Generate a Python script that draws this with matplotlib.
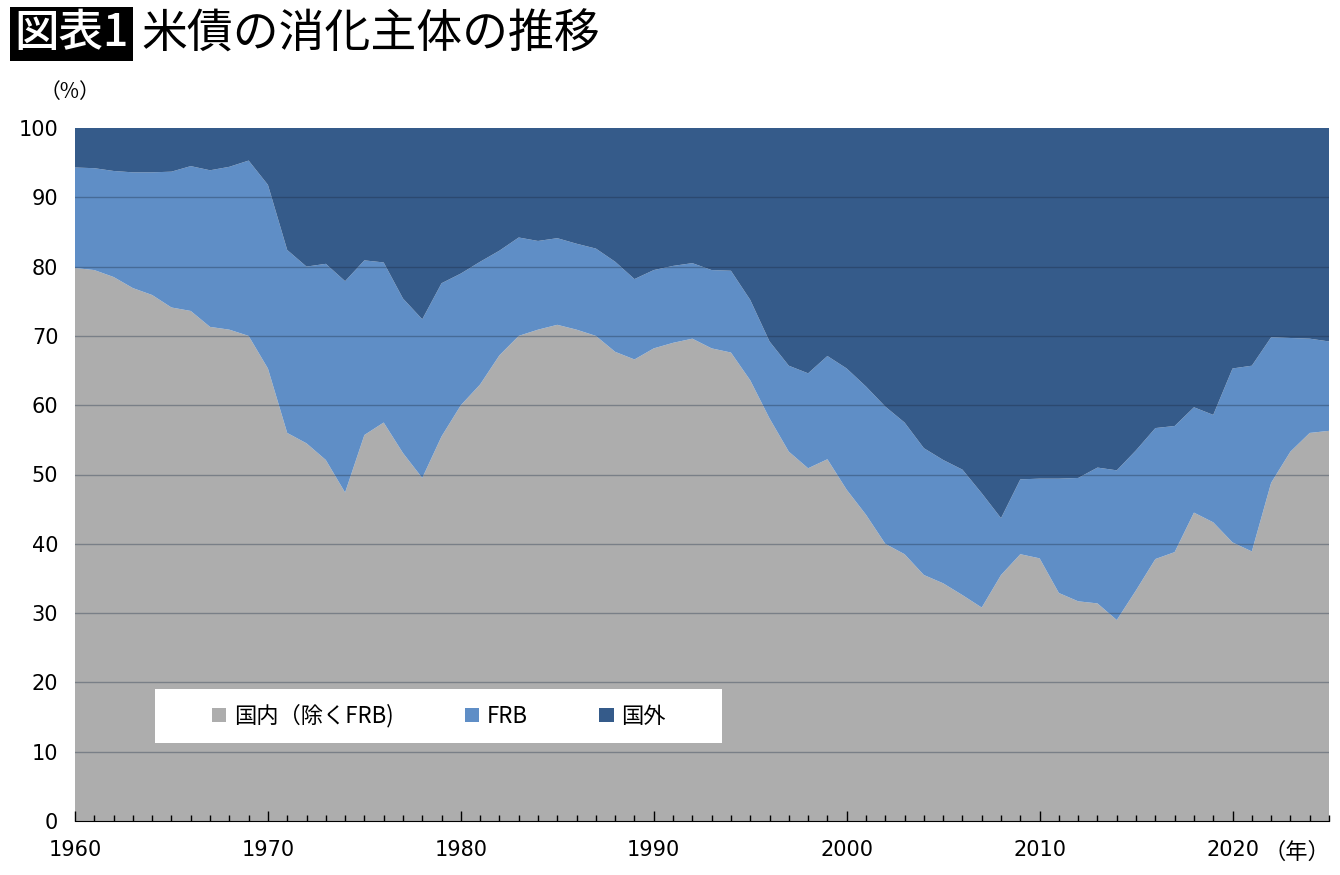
import numpy as np
import matplotlib
matplotlib.use("Agg")
from matplotlib import pyplot as plt
from matplotlib.patches import Rectangle, Patch

plt.rcParams['font.family'] = ['DejaVu Sans', 'Noto Sans CJK JP']
cjk = ['Noto Sans CJK JP', 'DejaVu Sans']

years = list(range(1960, 2026))

# 国内（除くFRB） share, %
domestic = [79.8, 79.5, 78.5, 76.9, 75.9, 74.1, 73.6, 71.3, 70.9, 70.0,
            65.3, 56.0, 54.5, 52.1, 47.4, 55.7, 57.5, 53.1, 49.5, 55.5,
            60.0, 63.0, 67.2, 70.0, 70.9, 71.6, 70.9, 70.0, 67.7, 66.6,
            68.2, 69.0, 69.6, 68.2, 67.6, 63.6, 58.1, 53.3, 50.9, 52.2,
            47.8, 44.2, 40.0, 38.5, 35.5, 34.3, 32.6, 30.8, 35.5, 38.5,
            37.9, 32.9, 31.7, 31.4, 29.0, 33.3, 37.8, 38.8, 44.5, 43.1,
            40.2, 38.9, 48.8, 53.3, 56.0, 56.3]

# 国内 + FRB (upper edge of the FRB band), %
domestic_frb = [94.3, 94.2, 93.8, 93.6, 93.6, 93.7, 94.5, 93.9, 94.4, 95.3,
                91.8, 82.4, 80.0, 80.4, 77.9, 80.9, 80.6, 75.4, 72.4, 77.6,
                79.0, 80.7, 82.3, 84.2, 83.7, 84.1, 83.3, 82.6, 80.7, 78.2,
                79.5, 80.1, 80.5, 79.5, 79.4, 75.2, 69.2, 65.7, 64.6, 67.1,
                65.3, 62.7, 59.8, 57.5, 53.8, 52.1, 50.7, 47.3, 43.7, 49.3,
                49.4, 49.4, 49.5, 51.0, 50.6, 53.5, 56.7, 57.0, 59.7, 58.6,
                65.3, 65.7, 69.8, 69.7, 69.6, 69.2]

frb = [t - d for t, d in zip(domestic_frb, domestic)]
foreign = [100 - t for t in domestic_frb]

labels = ['国内（除くFRB)', 'FRB', '国外']
colors = ['#ADADAD', '#5F8EC6', '#355B8A']

fig = plt.figure(figsize=(13.4, 8.75), dpi=100)
ax = fig.add_axes([75/1340, 54/875, 1254/1340, 693/875])

ax.stackplot(years, domestic, frb, foreign, colors=colors, linewidth=0, zorder=1)

ax.set_xlim(1960, 2025)
ax.set_ylim(0, 100)

# gridlines over the areas
for v in range(10, 100, 10):
    ax.axhline(v, color='#1a2a40', alpha=0.35, linewidth=1.0, zorder=2)

ax.set_yticks(range(0, 101, 10))
ax.tick_params(axis='y', length=0, pad=12, labelsize=15)
ax.set_xticks(range(1960, 2021, 10))
ax.set_xticks(range(1960, 2026), minor=True)
ax.tick_params(axis='x', which='major', direction='in', length=7, width=1,
               pad=14, labelsize=15)
ax.tick_params(axis='x', which='minor', direction='in', length=4, width=1)
for s in ['top', 'left', 'right']:
    ax.spines[s].set_visible(False)
ax.spines['bottom'].set_color('black')
ax.spines['bottom'].set_zorder(5)

# legend box
ax.add_patch(Rectangle((80/1254, 78/693), 567/1254, 54/693, transform=ax.transAxes,
                       facecolor='white', edgecolor='none', zorder=3))
handles = [Patch(facecolor=c, edgecolor='none') for c in colors]
ax.legend(handles, labels, ncol=3, loc='center', bbox_to_anchor=(364/1254, 105/693),
          frameon=False, prop={'family': cjk, 'size': 16}, handlelength=0.65,
          handleheight=0.65, handletextpad=0.35, columnspacing=3.2)

fig.text(40/1340, 1 - 92/875, '（%）', fontsize=15, family=cjk, ha='left', va='center')
fig.text(1330/1340, 1 - 852/875, '（年）', fontsize=16, family=cjk, ha='right', va='center')

fig.text(14/1340, 1 - 34/875, '図表1', fontsize=32, color='white', family=cjk,
         fontweight='medium', ha='left', va='center',
         bbox=dict(facecolor='black', edgecolor='none', boxstyle='square,pad=0.1'))
fig.text(141/1340, 1 - 34/875, '米債の消化主体の推移', fontsize=33, color='black',
         family=cjk, fontweight='normal', ha='left', va='center')

fig.savefig('out.png', dpi=100)
